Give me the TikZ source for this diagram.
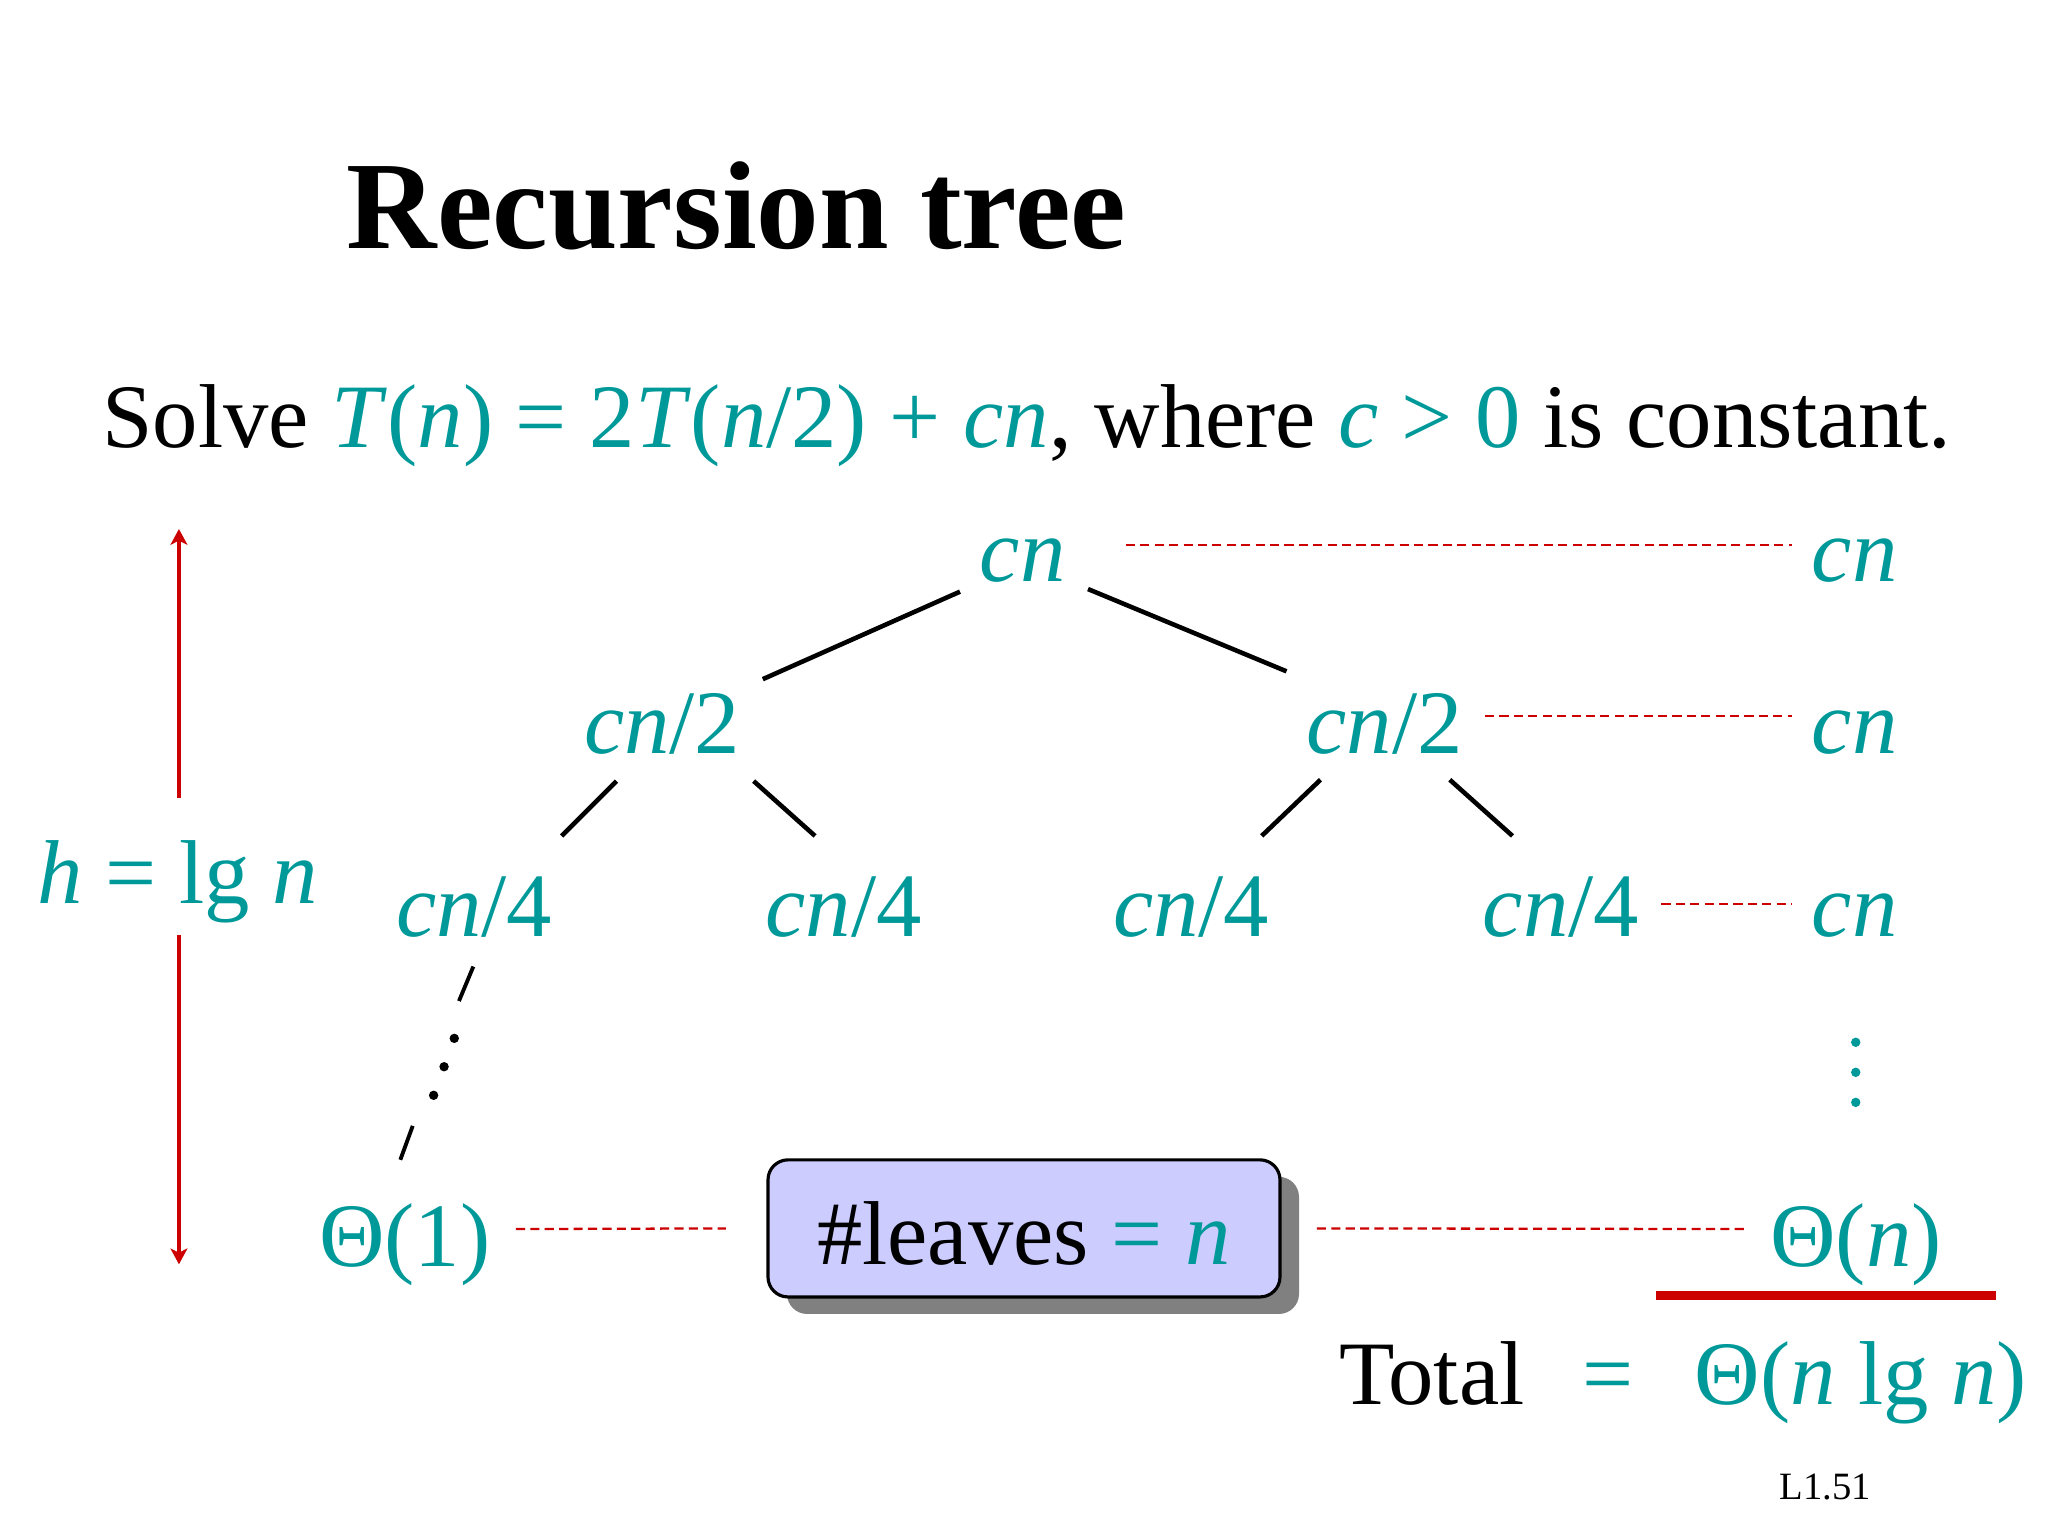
\documentclass[tikz,border=0pt]{standalone}
\usepackage{fontspec}
\setmainfont{Liberation Serif}
\usetikzlibrary{calc,arrows.meta,shadows}
\definecolor{tealc}{RGB}{0,153,153}
\definecolor{redc}{RGB}{204,0,0}
\definecolor{boxfill}{RGB}{204,204,255}
\definecolor{shadowgray}{RGB}{128,128,128}
\newcommand{\mi}[1]{\textit{#1}}
\begin{document}
\begin{tikzpicture}[x=0.0130612cm,y=-0.0130612cm,
  txt/.style={inner sep=0pt, font=\fontsize{25.8}{30}\selectfont},
  lbl/.style={txt, anchor=base, text=tealc},
  edge/.style={line width=1.3pt, black},
  dashline/.style={redc, line width=0.65pt, dash pattern=on 2.6pt off 1.5pt},
  harrow/.style={redc, line width=1.3pt, -{Stealth[length=4.5pt,width=4.8pt,inset=1.2pt]}},
  leafbox/.style={txt, draw=black, line width=0.9pt, fill=boxfill, rounded corners=0.2cm,
    minimum width=5.12cm, minimum height=1.371cm, text height=20.4pt, text depth=0pt,
    drop shadow={shadow xshift=0.19cm, shadow yshift=-0.17cm, fill=shadowgray, opacity=1}},
  dotc/.style={black},
]
\useasboundingbox (0,0) rectangle (1568,1176);
\fill[white] (0,0) rectangle (1568,1176);

% title and statement
\node[inner sep=0pt, anchor=base west, font=\fontsize{35.6}{40}\selectfont\bfseries] (title) at (265,190) {Recursion tree};
\node[txt, anchor=base west] (stmt) at (78,343) {Solve {\color{tealc}\mi{T}(\mi{n}) = 2\mi{T}(\mi{n}/2) + \mi{cn}}, where {\color{tealc}\mi{c} > 0} is constant.};

% tree nodes
\node[lbl] (root) at (783,445) {\mi{cn}};
\node[lbl] (l2) at (507,577) {\mi{cn}/2};
\node[lbl] (r2) at (1060,577) {\mi{cn}/2};
\node[lbl] (a) at (363,717) {\mi{cn}/4};
\node[lbl] (b) at (646,717) {\mi{cn}/4};
\node[lbl] (c) at (912,717) {\mi{cn}/4};
\node[lbl] (d) at (1195,717) {\mi{cn}/4};
\node[lbl] (t1) at (310,970) {Θ(1)};

% right column
\node[lbl] (rc1) at (1420,445) {\mi{cn}};
\node[lbl] (rc2) at (1420,577) {\mi{cn}};
\node[lbl] (rc3) at (1420,717) {\mi{cn}};
\node[lbl] (tn) at (1421,970) {Θ(\mi{n})};

% leaves box
\node[leafbox] (leaves) at (784,940.5) {\#leaves {\color{tealc}= \mi{n}}};

% tree edges
\draw[edge] ($(root.base)+(-48,8)$) -- ($(l2.base)+(77,-57)$);
\draw[edge] ($(root.base)+(50,6)$) -- ($(r2.base)+(-75,-63)$);
\draw[edge] ($(l2.base)+(-35,21)$) -- ($(a.base)+(67,-77)$);
\draw[edge] ($(l2.base)+(70,21)$) -- ($(b.base)+(-22,-77)$);
\draw[edge] ($(r2.base)+(-49,20)$) -- ($(c.base)+(54,-77)$);
\draw[edge] ($(r2.base)+(50,20)$) -- ($(d.base)+(-37,-77)$);

% dotted path from cn/4 down to Theta(1)
\draw[edge, line width=1.1pt] ($(a.base)+(-0.6,23)$) -- ($(a.base)+(-11.6,49.4)$);
\fill[dotc] (347.8,795) circle[radius=0.047cm];
\fill[dotc] (340,816.7) circle[radius=0.047cm];
\fill[dotc] (332,838.6) circle[radius=0.047cm];
\draw[edge, line width=1.1pt] ($(t1.base)+(6,-108)$) -- ($(t1.base)+(-3.5,-82)$);

% right vertical dots
\fill[tealc] (1420.8,798) circle[radius=0.047cm];
\fill[tealc] (1420.8,821) circle[radius=0.047cm];
\fill[tealc] (1420.8,844) circle[radius=0.047cm];

% dashed level lines
\draw[dashline] ($(root.base)+(79,-28)$) -- ($(rc1.base)+(-48,-28)$);
\draw[dashline] ($(r2.base)+(77,-29)$) -- ($(rc2.base |- r2.base)+(-48,-29)$);
\draw[dashline] ($(d.base)+(77,-25)$) -- ($(rc3.base)+(-48,-25)$);
\draw[dashline] ($(t1.base)+(85,-29)$) -- ($(leaves.west)+(-31,0)$);
\draw[dashline] ($(leaves.east)+(27,0)$) -- ($(tn.base)+(-83,-29)$);

% height arrow
\node[lbl, text height=30pt, text depth=8.55pt] (hlab) at (136,692) {\mi{h} = lg \mi{n}};
\coordinate (htop) at (137,405);
\coordinate (hbot) at (137,968);
\draw[harrow] (hlab.north -| htop) -- (htop);
\draw[harrow] (hlab.south -| hbot) -- (hbot);

% total
\coordinate (ulA) at (1268,992);
\coordinate (ulB) at (1528,992);
\draw[redc, line width=2.4pt] (ulA) -- (ulB);
\node[txt, anchor=base west] (total) at (1025,1075) {Total};
\node[lbl] (eq) at (1231,1075) {=};
\node[lbl, anchor=base west] (res) at (1297,1075) {Θ(\mi{n} lg \mi{n})};

\node[inner sep=0pt, anchor=base west, font=\fontsize{11}{13}\selectfont] (pg) at (1362,1148) {L1.51};
\end{tikzpicture}
\end{document}
